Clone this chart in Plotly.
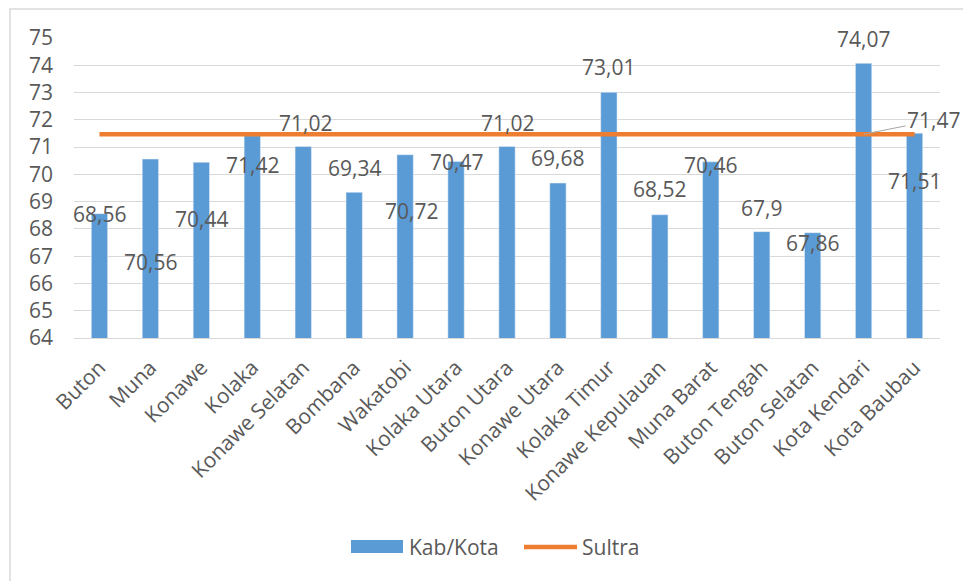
import plotly.graph_objects as go

categories = ["Buton", "Muna", "Konawe", "Kolaka", "Konawe Selatan", "Bombana", "Wakatobi",
              "Kolaka Utara", "Buton Utara", "Konawe Utara", "Kolaka Timur", "Konawe Kepulauan",
              "Muna Barat", "Buton Tengah", "Buton Selatan", "Kota Kendari", "Kota Baubau"]
kab_kota = [68.56, 70.56, 70.44, 71.42, 71.02, 69.34, 70.72, 70.47, 71.02, 69.68, 73.01,
            68.52, 70.46, 67.9, 67.86, 74.07, 71.51]
sultra = [71.47] * len(categories)
y_ticks = list(range(64, 76))

# label pixel offsets (dx, dy) relative to bar top, as in the original
label_offsets = [(0, 0), (0, 103), (0, 57), (0, 29), (2, -24), (0, -24), (6, 56), (0, 0),
                 (0, -24), (0, -25), (0, -25), (0, -26), (0, 3), (0, -24), (0, 10), (0, -24), (0, 48)]

BLUE = "#5B9BD5"
ORANGE = "#ED7D31"
TXT = "#595959"
FONT = "Open Sans"
FS = 21

W, H = 963, 581
ML, MR, MT, MB = 74, 23, 38, 243
PW, PH = W - ML - MR, H - MT - MB

def px(xp):
    return (xp - ML) / PW

def py(yp):
    return 1 - (yp - MT) / PH

fig = go.Figure()
fig.add_trace(go.Bar(x=categories, y=kab_kota, name="Kab/Kota", marker_color=BLUE,
                     width=0.32))
fig.add_trace(go.Scatter(x=categories, y=sultra, name="Sultra", mode="lines",
                         line=dict(color=ORANGE, width=4.5)))

annotations = []
for c, v, (dx, dy) in zip(categories, kab_kota, label_offsets):
    annotations.append(dict(x=c, y=v, text=f"{v:g}".replace(".", ","), showarrow=False,
                            xshift=dx, yshift=-dy, font=dict(family=FONT, size=FS, color=TXT)))
annotations.append(dict(x=categories[-2], y=sultra[-2], text=f"{sultra[-1]:g}".replace(".", ","),
                        showarrow=True, arrowhead=0, arrowcolor="#A6A6A6", arrowwidth=1,
                        ax=70, ay=-14, font=dict(family=FONT, size=FS, color=TXT)))
# custom legend
annotations.append(dict(xref="paper", yref="paper", x=px(407), y=py(547), xanchor="left",
                        yanchor="middle", text="Kab/Kota", showarrow=False,
                        font=dict(family=FONT, size=FS, color=TXT)))
annotations.append(dict(xref="paper", yref="paper", x=px(580), y=py(547), xanchor="left",
                        yanchor="middle", text="Sultra", showarrow=False,
                        font=dict(family=FONT, size=FS, color=TXT)))

shapes = [
    dict(type="rect", xref="paper", yref="paper", x0=px(10), x1=px(1000), y0=py(620), y1=py(9),
         line=dict(color="#D9D9D9", width=1.5), layer="below"),
    dict(type="rect", xref="paper", yref="paper", x0=px(351), x1=px(403), y0=py(553), y1=py(540),
         fillcolor=BLUE, line=dict(width=0)),
    dict(type="line", xref="paper", yref="paper", x0=px(524), x1=px(577), y0=py(547), y1=py(547),
         line=dict(color=ORANGE, width=4.5)),
]

fig.update_layout(
    width=W, height=H,
    margin=dict(l=ML, r=MR, t=MT, b=MB, autoexpand=False),
    paper_bgcolor="white", plot_bgcolor="white",
    font=dict(family=FONT, size=FS, color=TXT),
    showlegend=False,
    annotations=annotations,
    shapes=shapes,
)
fig.update_yaxes(range=[64, 75], tickvals=y_ticks, showgrid=True, gridcolor="#D9D9D9",
                 gridwidth=1, zeroline=False, ticks="", tickfont=dict(size=FS, color=TXT),
                 ticklabelstandoff=20)
fig.update_xaxes(range=[-0.5, len(categories) - 0.5], tickangle=-45, showline=True,
                 linecolor="#D9D9D9", linewidth=1,
                 ticks="outside", ticklen=8, tickcolor="rgba(0,0,0,0)",
                 tickfont=dict(size=FS, color=TXT))

fig.write_html("out.html", config={"displayModeBar": False},
               post_script="document.body.style.margin='0';")
